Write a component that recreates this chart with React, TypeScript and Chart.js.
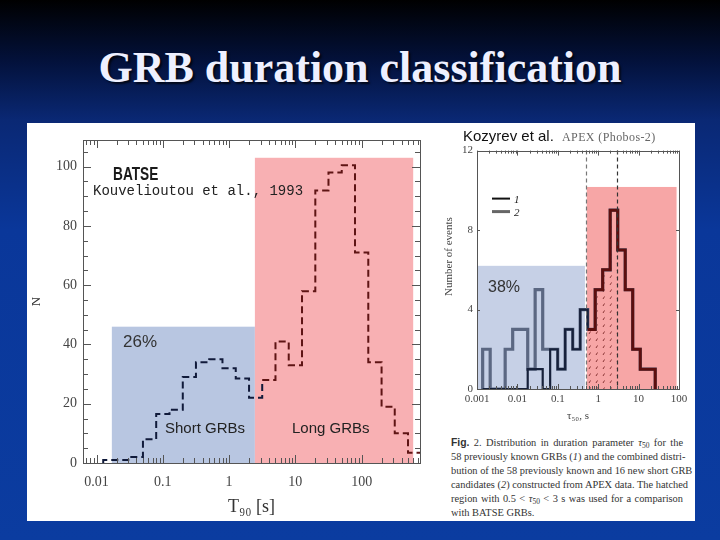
import React, { useEffect, useRef } from 'react';
import { Chart, registerables } from 'chart.js';

Chart.register(...registerables);

// ---------- Left panel: BATSE T90 distribution ----------
const batseBinEdges = [0.0126, 0.02, 0.0316, 0.0501, 0.0794, 0.126, 0.2, 0.316, 0.501, 0.794, 1.26, 2.0, 3.16, 5.01, 7.94, 12.6, 20, 31.6, 50.1, 79.4, 126, 200, 316, 501, 794];
const batseCounts = [1, 1, 2, 8, 16.5, 18, 29, 34, 35, 32, 28.5, 22, 28, 41, 33, 58, 92, 98, 100.5, 71, 34, 19, 10, 3.5];
const batseXTicks = [0.01, 0.1, 1, 10, 100];
const batseYTicks = [0, 20, 40, 60, 80, 100];
const batseShortBand = [0.017, 2.45];
const batseShortTop = 46;
const batseLongBand = [2.45, 600];
const batseLongTop = 103;
const batseSplit = 2.45;

// ---------- Right panel: APEX (Phobos-2) tau50 distribution ----------
const apexBinEdges = [0.00138, 0.00212, 0.00324, 0.00498, 0.00764, 0.0117, 0.018, 0.0275, 0.0423, 0.0647, 0.0993, 0.152, 0.234, 0.358, 0.5495, 0.843, 1.29, 1.98, 3.04, 4.67, 7.15, 11.0, 16.8, 25.8];
const apexKnown = [0, 0, 0, 0, 0, 0, 1, 1, 0, 2, 1, 3, 2, 4, 3, 5, 6, 9, 7, 5, 2, 1, 1];
const apexCombined = [2, 0, 0, 2, 3, 3, 1, 5, 2, 2, 1, 3, 2, 4, 3, 5, 6, 9, 7, 5, 2, 1, 1];
const apexXTicks = [0.001, 0.01, 0.1, 1, 10, 100];
const apexYTicks = [0, 4, 8, 12];
const apexShortBand = [0.001, 0.47];
const apexShortTop = 6.2;
const apexLongBand = [0.52, 87];
const apexLongTop = 10.17;
const apexHatch = [0.5, 3];

const SERIF = "'Liberation Serif', 'Times New Roman', serif";
const SANS = "'Liberation Sans', Arial, sans-serif";
const MONO = "'Liberation Mono', 'Courier New', monospace";

function stepPoints(edges: number[], counts: number[]) {
  const pts = [{ x: edges[0], y: 0 }];
  counts.forEach((c, i) => pts.push({ x: edges[i], y: c }));
  pts.push({ x: edges[edges.length - 1], y: 0 });
  return pts;
}

function fillBand(ctx: any, xs: any, ys: any, band: number[], top: number, color: string) {
  const x0 = xs.getPixelForValue(band[0]);
  const x1 = xs.getPixelForValue(band[1]);
  const y0 = ys.getPixelForValue(0);
  const y1 = ys.getPixelForValue(top);
  ctx.fillStyle = color;
  ctx.fillRect(x0, y1, x1 - x0, y0 - y1);
}

function drawLogTicks(ctx: any, s: any, a: any, major: number, minor: number) {
  const lo = Math.floor(Math.log10(s.min));
  const hi = Math.ceil(Math.log10(s.max));
  ctx.beginPath();
  for (let n = lo; n <= hi; n++) {
    for (let m = 1; m <= 9; m++) {
      const v = m * Math.pow(10, n);
      if (v < s.min || v > s.max) continue;
      const px = Math.round(s.getPixelForValue(v)) + 0.5;
      const len = m === 1 ? major : minor;
      ctx.moveTo(px, a.bottom);
      ctx.lineTo(px, a.bottom - len);
      ctx.moveTo(px, a.top);
      ctx.lineTo(px, a.top + len);
    }
  }
  ctx.stroke();
}

function drawLinTicks(ctx: any, s: any, a: any, step: number, majorStep: number, major: number, minor: number) {
  ctx.beginPath();
  for (let v = s.min; v <= s.max + 1e-9; v += step) {
    const py = Math.round(s.getPixelForValue(v)) + 0.5;
    const len = Math.abs(v % majorStep) < 1e-9 ? major : minor;
    ctx.moveTo(a.left, py);
    ctx.lineTo(a.left + len, py);
    ctx.moveTo(a.right, py);
    ctx.lineTo(a.right - len, py);
  }
  ctx.stroke();
}

function label(ctx: any, s: string, x: number, y: number, font: string, color: string, scaleX = 1) {
  ctx.save();
  ctx.font = font;
  ctx.fillStyle = color;
  ctx.textAlign = 'left';
  ctx.textBaseline = 'alphabetic';
  ctx.translate(x, y);
  ctx.scale(scaleX, 1);
  ctx.fillText(s, 0, 0);
  ctx.restore();
}

const batseDecor = {
  id: 'batseDecor',
  beforeDatasetsDraw(chart: any) {
    const { ctx, chartArea: a, scales } = chart;
    ctx.save();
    ctx.beginPath();
    ctx.rect(a.left, a.top, a.right - a.left, a.bottom - a.top);
    ctx.clip();
    fillBand(ctx, scales.x, scales.y, batseShortBand, batseShortTop, '#b8c6e1');
    fillBand(ctx, scales.x, scales.y, batseLongBand, batseLongTop, '#f8b0b3');
    ctx.restore();
    label(ctx, 'BATSE', a.left + 30, a.top + 40, `bold 18px ${SANS}`, '#1a1a1a', 0.76);
    label(ctx, 'Kouvelioutou et al., 1993', a.left + 10, a.top + 55, `14px ${MONO}`, '#222');
    label(ctx, '26%', a.left + 40, a.top + 207, `17px ${SANS}`, '#333');
    label(ctx, 'Short GRBs', a.left + 82, a.top + 293, `15px ${SANS}`, '#222');
    label(ctx, 'Long GRBs', a.left + 209, a.top + 293, `15px ${SANS}`, '#222');
  },
  afterDatasetsDraw(chart: any) {
    const { ctx, chartArea: a, scales } = chart;
    ctx.save();
    ctx.strokeStyle = '#555';
    ctx.lineWidth = 1;
    ctx.strokeRect(Math.round(a.left) + 0.5, Math.round(a.top) + 0.5, Math.round(a.right - a.left), Math.round(a.bottom - a.top));
    drawLogTicks(ctx, scales.x, a, 8, 5);
    drawLinTicks(ctx, scales.y, a, 5, 20, 8, 5);
    ctx.restore();
  },
};

function makeApexDecor(hatch: any) {
  return {
    id: 'apexDecor',
    beforeDatasetsDraw(chart: any) {
      const { ctx, chartArea: a, scales } = chart;
      const xs = scales.x, ys = scales.y;
      ctx.save();
      ctx.beginPath();
      ctx.rect(a.left, a.top, a.right - a.left, a.bottom - a.top);
      ctx.clip();
      fillBand(ctx, xs, ys, apexShortBand, apexShortTop, '#c6d0e6');
      fillBand(ctx, xs, ys, apexLongBand, apexLongTop, '#f7a6a6');
      // hatched region under curve 1
      ctx.fillStyle = hatch;
      apexKnown.forEach((v, i) => {
        const lo = Math.max(apexBinEdges[i], apexHatch[0]);
        const hi = Math.min(apexBinEdges[i + 1], apexHatch[1]);
        if (lo < hi && v > 0) {
          const x0 = xs.getPixelForValue(lo);
          const x1 = xs.getPixelForValue(hi);
          const y0 = ys.getPixelForValue(0);
          const y1 = ys.getPixelForValue(v);
          ctx.fillRect(x0, y1, x1 - x0, y0 - y1);
        }
      });
      ctx.restore();
      label(ctx, '38%', a.left + 11, a.top + 141, `16px ${SANS}`, '#333');
    },
    afterDatasetsDraw(chart: any) {
      const { ctx, chartArea: a, scales } = chart;
      const xs = scales.x;
      ctx.save();
      // dashed boundaries
      ctx.setLineDash([4, 3]);
      ctx.lineWidth = 1.2;
      [[apexHatch[0], '#777'], [apexHatch[1], '#333']].forEach(([v, c]: any) => {
        const px = Math.round(xs.getPixelForValue(v)) + 0.5;
        ctx.strokeStyle = c;
        ctx.beginPath();
        ctx.moveTo(px, a.top);
        ctx.lineTo(px, a.bottom);
        ctx.stroke();
      });
      ctx.setLineDash([]);
      ctx.strokeStyle = '#555';
      ctx.lineWidth = 1;
      ctx.strokeRect(Math.round(a.left) + 0.5, Math.round(a.top) + 0.5, Math.round(a.right - a.left), Math.round(a.bottom - a.top));
      drawLogTicks(ctx, xs, a, 5, 3);
      drawLinTicks(ctx, scales.y, a, 4, 4, 3, 3);
      // legend
      ctx.lineWidth = 2;
      ctx.strokeStyle = '#111';
      ctx.beginPath();
      ctx.moveTo(a.left + 15, a.top + 48);
      ctx.lineTo(a.left + 33, a.top + 48);
      ctx.stroke();
      ctx.lineWidth = 3;
      ctx.strokeStyle = '#666';
      ctx.beginPath();
      ctx.moveTo(a.left + 15, a.top + 61);
      ctx.lineTo(a.left + 33, a.top + 61);
      ctx.stroke();
      ctx.restore();
      label(ctx, '1', a.left + 37, a.top + 52, `italic 11px ${SERIF}`, '#222');
      label(ctx, '2', a.left + 37, a.top + 65, `italic 11px ${SERIF}`, '#222');
      // y-axis title
      ctx.save();
      ctx.translate(a.left - 28, a.top + 106);
      ctx.rotate(-Math.PI / 2);
      ctx.font = `11px ${SERIF}`;
      ctx.fillStyle = '#444';
      ctx.textAlign = 'center';
      ctx.textBaseline = 'middle';
      ctx.fillText('Number of events', 0, 0);
      ctx.restore();
    },
  };
}

export default function App() {
  const leftRef = useRef<HTMLCanvasElement>(null);
  const rightRef = useRef<HTMLCanvasElement>(null);

  useEffect(() => {
    const batse = new Chart(leftRef.current as HTMLCanvasElement, {
      type: 'line',
      data: {
        datasets: [
          {
            data: stepPoints(batseBinEdges, batseCounts),
            stepped: 'before',
            borderWidth: 2,
            borderDash: [7, 4],
            borderColor: '#101a3a',
            pointRadius: 0,
            fill: false,
            segment: {
              borderColor: (c: any) => (c.p0.parsed.x < batseSplit ? '#101a3a' : '#5e1414'),
            },
          } as any,
        ],
      },
      options: {
        responsive: false,
        devicePixelRatio: 1,
        animation: false,
        layout: { padding: { top: 17, right: 20, left: 0, bottom: 0 } },
        plugins: { legend: { display: false }, tooltip: { enabled: false } },
        scales: {
          x: {
            type: 'logarithmic',
            min: 0.00624,
            max: 760,
            grid: { display: false, drawTicks: false },
            border: { display: false },
            afterBuildTicks: (s: any) => { s.ticks = batseXTicks.map((v) => ({ value: v })); },
            afterFit: (s: any) => { s.height = 57; },
            ticks: { autoSkip: false, maxRotation: 0, padding: 11, color: '#444', font: { family: SERIF, size: 14 }, callback: (v: any) => String(v) },
            title: { display: true, text: 'T₉₀ [s]', color: '#333', font: { family: SERIF, size: 18 }, padding: { top: 0, bottom: 2 } },
          },
          y: {
            type: 'linear',
            min: 0,
            max: 109,
            grid: { display: false, drawTicks: false },
            border: { display: false },
            afterBuildTicks: (s: any) => { s.ticks = batseYTicks.map((v) => ({ value: v })); },
            afterFit: (s: any) => { s.width = 56; },
            ticks: { autoSkip: false, padding: 6, color: '#444', font: { family: SERIF, size: 14 } },
            title: { display: true, text: 'N', color: '#333', font: { family: SERIF, size: 13 }, padding: { top: 2, bottom: 0 } },
          },
        },
      } as any,
      plugins: [batseDecor],
    });

    const pc = document.createElement('canvas');
    pc.width = 7;
    pc.height = 7;
    const pctx = pc.getContext('2d') as CanvasRenderingContext2D;
    pctx.strokeStyle = 'rgba(110,25,25,0.8)';
    pctx.lineWidth = 1;
    pctx.beginPath();
    pctx.moveTo(2, 5);
    pctx.lineTo(3.5, 2.5);
    pctx.stroke();
    const rctx = (rightRef.current as HTMLCanvasElement).getContext('2d') as CanvasRenderingContext2D;
    const hatch = rctx.createPattern(pc, 'repeat');

    const apex = new Chart(rightRef.current as HTMLCanvasElement, {
      type: 'line',
      data: {
        datasets: [
          {
            label: '1',
            data: stepPoints(apexBinEdges, apexKnown),
            stepped: 'before',
            borderWidth: 2.2,
            borderColor: '#16203a',
            pointRadius: 0,
            fill: false,
            segment: {
              borderColor: (c: any) => (c.p0.parsed.x < apexHatch[0] ? '#16203a' : '#5c0e0e'),
              borderWidth: (c: any) => (c.p0.parsed.x < apexHatch[0] ? 2.2 : 3),
            },
          } as any,
          {
            label: '2',
            data: stepPoints(apexBinEdges, apexCombined),
            stepped: 'before',
            borderWidth: 3.2,
            borderColor: '#5b6782',
            pointRadius: 0,
            fill: false,
          } as any,
        ],
      },
      options: {
        responsive: false,
        devicePixelRatio: 1,
        animation: false,
        layout: { padding: { top: 9, right: 16, left: 0, bottom: 0 } },
        plugins: { legend: { display: false }, tooltip: { enabled: false } },
        scales: {
          x: {
            type: 'logarithmic',
            min: 0.001,
            max: 100,
            grid: { display: false, drawTicks: false },
            border: { display: false },
            afterBuildTicks: (s: any) => { s.ticks = apexXTicks.map((v) => ({ value: v })); },
            afterFit: (s: any) => { s.height = 36; },
            ticks: { autoSkip: false, maxRotation: 0, padding: 4, color: '#444', font: { family: SERIF, size: 11 }, callback: (v: any) => String(v) },
            title: { display: true, text: 'τ₅₀, s', color: '#444', font: { family: SERIF, size: 11 }, padding: { top: 0, bottom: 2 } },
          },
          y: {
            type: 'linear',
            min: 0,
            max: 12,
            grid: { display: false, drawTicks: false },
            border: { display: false },
            afterBuildTicks: (s: any) => { s.ticks = apexYTicks.map((v) => ({ value: v })); },
            afterFit: (s: any) => { s.width = 37; },
            ticks: { autoSkip: false, padding: 4, color: '#444', font: { family: SERIF, size: 11 } },
          },
        },
      } as any,
      plugins: [makeApexDecor(hatch)],
    });

    return () => {
      batse.destroy();
      apex.destroy();
    };
  }, []);

  const lineStyle: React.CSSProperties = {
    height: 14,
    lineHeight: '14px',
    whiteSpace: 'nowrap',
    textAlign: 'justify',
    textAlignLast: 'justify' as any,
  };
  const sub: React.CSSProperties = { fontSize: '7.5px', verticalAlign: '-2px' };

  return (
    <div
      style={{
        position: 'absolute',
        left: 0,
        top: 0,
        width: 720,
        height: 540,
        overflow: 'hidden',
        background: 'linear-gradient(180deg, #000000 0px, #03113a 60px, #0a2874 120px, #0a379a 230px, #0b3ca0 540px)',
      }}
    >
      <div
        style={{
          position: 'absolute',
          left: 0,
          top: 46,
          width: 720,
          textAlign: 'center',
          fontFamily: SERIF,
          fontWeight: 'bold',
          fontSize: 44,
          lineHeight: '44px',
          color: '#eef0ff',
          textShadow: '2px 2px 2px rgba(0,0,0,0.7)',
        }}
      >
        GRB duration classification
      </div>
      <div style={{ position: 'absolute', left: 27, top: 123, width: 668, height: 398, background: '#ffffff' }} />
      <canvas ref={leftRef} width={413} height={397} style={{ position: 'absolute', left: 27, top: 123, width: 413, height: 397 }} />
      <canvas ref={rightRef} width={255} height={285} style={{ position: 'absolute', left: 440, top: 140, width: 255, height: 285 }} />
      <div style={{ position: 'absolute', left: 463, top: 128, fontFamily: SANS, fontSize: 15, lineHeight: '15px', color: '#111' }}>
        Kozyrev et al.
      </div>
      <div style={{ position: 'absolute', left: 562, top: 131, fontFamily: SERIF, fontSize: 12, lineHeight: '12px', color: '#666', letterSpacing: '0.4px' }}>
        APEX (Phobos-2)
      </div>
      <div style={{ position: 'absolute', left: 451, top: 436, width: 232, fontFamily: SERIF, fontSize: '10.4px', color: '#333' }}>
        <div style={lineStyle}>
          <span style={{ fontFamily: SANS, fontWeight: 'bold' }}>Fig.</span> 2. Distribution in duration parameter <i>τ</i><span style={sub}>50</span> for the
        </div>
        <div style={lineStyle}>58 previously known GRBs (<i>1</i>) and the combined distri-</div>
        <div style={lineStyle}>bution of the 58 previously known and 16 new short GRB</div>
        <div style={lineStyle}>candidates (<i>2</i>) constructed from APEX data. The hatched</div>
        <div style={lineStyle}>
          region with 0.5 &lt; <i>τ</i><span style={sub}>50</span> &lt; 3 s was used for a comparison
        </div>
        <div style={{ ...lineStyle, textAlign: 'left', textAlignLast: 'left' as any }}>with BATSE GRBs.</div>
      </div>
    </div>
  );
}
